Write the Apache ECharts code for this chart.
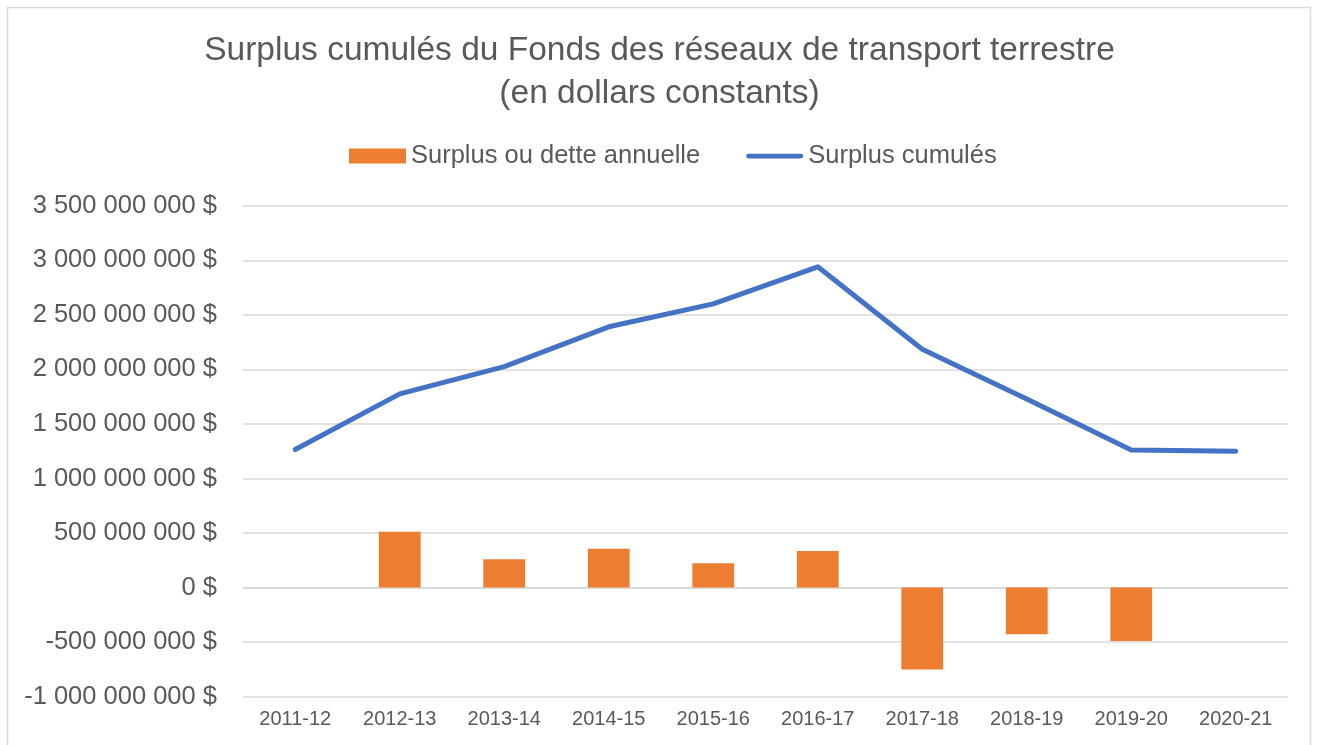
<!DOCTYPE html>
<html>
<head>
<meta charset="utf-8">
<script src="https://cdn.jsdelivr.net/npm/echarts@6/dist/echarts.min.js"></script>
<style>html,body{margin:0;padding:0;background:#fff;}#c{width:1319px;height:745px;}</style>
</head>
<body>
<div id="c"></div>
<script>
const categories = ['2011-12','2012-13','2013-14','2014-15','2015-16','2016-17','2017-18','2018-19','2019-20','2020-21'];
const annualSurplus = [null, 512000000, 260000000, 357000000, 222000000, 335000000, -750000000, -427000000, -490000000, null];
const cumulativeSurplus = [1265000000, 1775000000, 2025000000, 2390000000, 2600000000, 2940000000, 2185000000, 1728000000, 1262000000, 1250000000];
const seriesNames = ['Surplus ou dette annuelle', 'Surplus cumulés'];
const titleText = 'Surplus cumulés du Fonds des réseaux de transport terrestre\n(en dollars constants)';

const FONT = "'Liberation Sans', Arial, Helvetica, sans-serif";
const TXT = '#595959';
function fmt(v){
  const s = String(Math.abs(v)).replace(/\B(?=(\d{3})+(?!\d))/g, ' ');
  return (v < 0 ? '-' : '') + s + ' $';
}
const chart = echarts.init(document.getElementById('c'), null, {renderer:'canvas'});
chart.setOption({
  animation:false,
  backgroundColor:'#fff',
  textStyle:{fontFamily:FONT},
  graphic:[{type:'rect', shape:{x:7.5,y:7.5,width:1303,height:760}, style:{fill:'none', stroke:'#D9D9D9', lineWidth:1.5}, silent:true}],
  title:{text:titleText, left:'center', top:24,
    textStyle:{fontFamily:FONT, fontSize:33.5, fontWeight:'normal', color:TXT, lineHeight:43}},
  legend:{left:344, top:138, itemWidth:57, itemHeight:15, itemGap:46, itemTextGap:5,
    textStyle:{fontFamily:FONT, fontSize:25.5, color:TXT},
    data:[{name:seriesNames[0], icon:'rect'},
          {name:seriesNames[1], icon:'path://M0,0 M2.5,5 L57.5,5 A2.5,2.5 0 0 1 57.5,10 L2.5,10 A2.5,2.5 0 0 1 2.5,5 Z M60,15'}]},
  grid:{left:243, right:31, top:205.7, bottom:48.3, containLabel:false},
  xAxis:{type:'category', data:categories, boundaryGap:true,
    axisLine:{show:true, lineStyle:{color:'#D9D9D9', width:1.5}}, axisTick:{show:false},
    axisLabel:{fontFamily:FONT, fontSize:20, color:TXT, margin:13}},
  yAxis:{type:'value', min:-1000000000, max:3500000000, interval:500000000,
    axisLine:{show:false}, axisTick:{show:false},
    splitLine:{lineStyle:{color:'#D9D9D9', width:1.5}},
    axisLabel:{fontFamily:FONT, fontSize:25.5, color:TXT, margin:26, formatter:fmt}},
  series:[
    {name:seriesNames[0], type:'bar', data:annualSurplus, barWidth:'40%',
      itemStyle:{color:'#ED7D31'}},
    {name:seriesNames[1], type:'line', data:cumulativeSurplus, symbol:'none',
      lineStyle:{color:'#4472C4', width:5, cap:'round', join:'round'}, itemStyle:{color:'#4472C4'}}
  ]
});
</script>
</body>
</html>
